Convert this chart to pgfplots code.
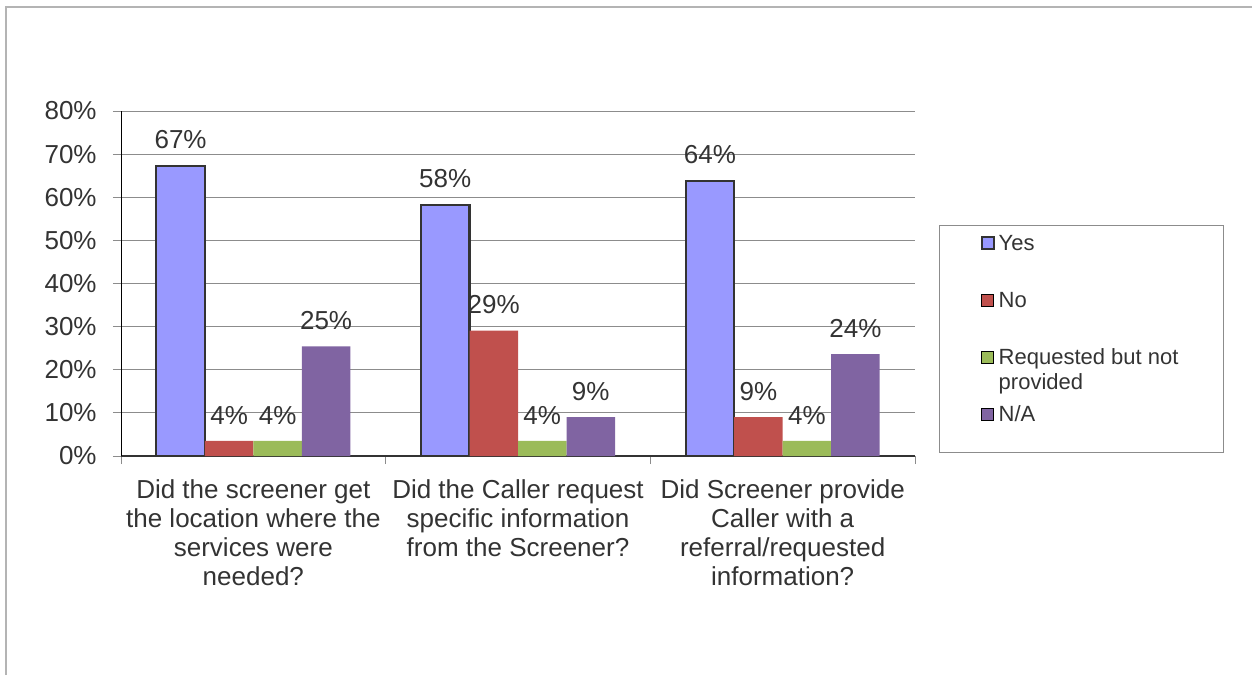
\documentclass[border=0pt]{standalone}
\usepackage{fontspec}
\setmainfont{Liberation Sans}
\usepackage{pgfplots}
\usepackage{pgfplotstable}
\pgfplotsset{compat=1.18}
\definecolor{cyes}{HTML}{9999FF}
\definecolor{cno}{HTML}{C0504D}
\definecolor{creq}{HTML}{9BBB59}
\definecolor{cna}{HTML}{8064A2}
\definecolor{ctext}{HTML}{333333}
\definecolor{cgrid}{HTML}{8C8C8C}
\definecolor{cframe}{HTML}{B4B4B4}

\pgfplotstableread{
x y lab
0 67.3 67
1 58.2 58
2 63.8 64
}\tyes
\pgfplotstableread{
x y lab
0 3.5 4
1 29.1 29
2 9.0 9
}\tno
\pgfplotstableread{
x y lab
0 3.5 4
1 3.5 4
2 3.5 4
}\treq
\pgfplotstableread{
x y lab
0 25.4 25
1 9.0 9
2 23.6 24
}\tna

\begin{document}
\begin{tikzpicture}
\useasboundingbox (0pt,0pt) rectangle (626pt,337.5pt);
\draw[cframe, line width=0.6pt] (3pt,0pt) -- (3pt,334pt) -- (626pt,334pt);
\draw[cgrid, line width=0.5pt] (469.5pt,111pt) rectangle (611.5pt,224.5pt);
\begin{axis}[
  at={(60.5pt,109.5pt)}, anchor=south west,
  scale only axis, width=397pt, height=172.5pt,
  ybar=0pt, bar width=24.25pt,
  xmin=-0.5, xmax=2.5, ymin=0, ymax=80,
  enlargelimits=false, clip=false,
  axis x line=bottom, axis y line=left,
  axis line style={-},
  x axis line style={draw=ctext, line width=0.6pt},
  y axis line style={draw=black, line width=0.5pt},
  xtick={-0.5,0.5,1.5,2.5}, xticklabels={},
  extra x ticks={0,1,2},
  extra x tick labels={{Did the screener get\\the location where the\\services were\\needed?},{Did the Caller request\\specific information\\from the Screener?},{Did Screener provide\\Caller with a\\referral/requested\\information?}},
  extra x tick style={major tick length=0pt, grid=none},
  ytick={0,10,...,80},
  yticklabels={0\%,10\%,20\%,30\%,40\%,50\%,60\%,70\%,80\%},
  ymajorgrids, major grid style={draw=cgrid, line width=0.5pt},
  tick align=outside, major tick length=4pt,
  tick style={draw=cgrid, line width=0.5pt},
  xticklabel style={font=\fontsize{13}{14.5}\selectfont, text=ctext, align=center, anchor=north, inner sep=0pt, yshift=-11.5pt},
  yticklabel style={font=\fontsize{13}{14.5}\selectfont, text=ctext, anchor=east, inner sep=0pt, xshift=-8pt},
  nodes near coords={\pgfplotspointmeta\%},
  point meta=explicit symbolic,
  every node near coord/.append style={font=\fontsize{13}{14.5}\selectfont, text=ctext, anchor=south, inner sep=0pt, yshift=8pt},
  legend image code/.code={\draw[#1] (0pt,-2pt) rectangle (6pt,4pt);},
  legend cell align=left,
  legend style={draw=none, fill=none, inner sep=0pt,
    at={(1.082,0.6435)}, anchor=north west,
    font=\fontsize{11}{12.5}\selectfont, text=ctext,
    row sep=17.5pt,
    nodes={inner sep=0pt, text height=8pt, text depth=3pt},
    /tikz/every odd column/.append style={column sep=2pt}},
]
\addplot[fill=cyes, draw=ctext, line width=1.1pt] table[x=x, y=y, meta=lab] {\tyes};
\addlegendentry{Yes}
\addplot[fill=cno, draw=none] table[x=x, y=y, meta=lab] {\tno};
\addlegendentry{No}
\addplot[fill=creq, draw=none] table[x=x, y=y, meta=lab] {\treq};
\addlegendentry{\smash{\begin{tabular}[t]{@{}l@{}}Requested but not\\provided\end{tabular}}}
\addplot[fill=cna, draw=none] table[x=x, y=y, meta=lab] {\tna};
\addlegendentry{N/A}
\end{axis}
\end{tikzpicture}
\end{document}
